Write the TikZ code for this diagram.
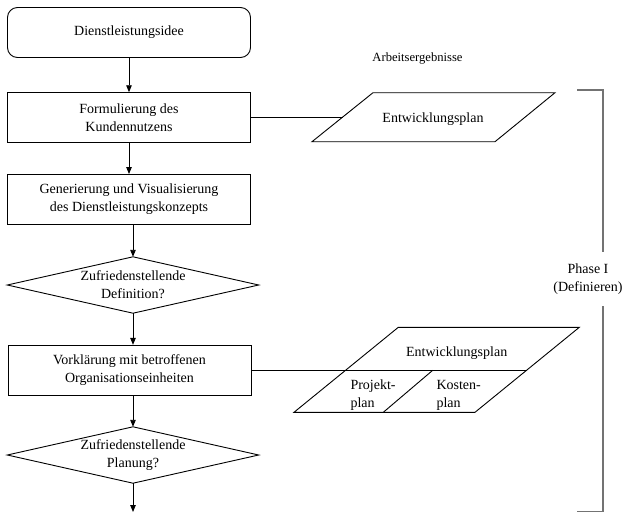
\documentclass[tikz,border=0pt]{standalone}
\usepackage{fontspec}
\setmainfont{Liberation Serif}
\usetikzlibrary{arrows.meta}
\begin{document}
\begin{tikzpicture}[x=1pt,y=-1pt,
  every node/.style={font=\fontsize{14}{18}\selectfont, align=center},
  box/.style={draw, line width=0.9pt, minimum width=243pt, minimum height=50pt, inner sep=0pt},
  roundbox/.style={box, rounded corners=10pt},
  dia/.style={minimum width=251pt, minimum height=56pt, inner sep=0pt},
  link/.style={line width=0.9pt},
  arr/.style={line width=0.9pt, -{Triangle[length=7pt,width=5.5pt]}},
  brack/.style={line width=1.2pt, draw=black!55}
]
\useasboundingbox (0,0) rectangle (624,512);

% main flow
\node[roundbox] (idea) at (129,32.5) {Dienstleistungsidee};
\node[box] (kn) at (129,117.7) {Formulierung des\\Kundennutzens};
\node[box] (gv) at (129,199.5) {Generierung und Visualisierung\\des Dienstleistungskonzepts};
\node[dia] (d1) at (133,285) {Zufriedenstellende\\Definition?};
\draw[link] (d1.north) -- (d1.east) -- (d1.south) -- (d1.west) -- cycle;
\node[box] (vk) at (129.5,370.3) {Vorkl\"arung mit betroffenen\\Organisationseinheiten};
\node[dia] (d2) at (133,455) {Zufriedenstellende\\Planung?};
\draw[link] (d2.north) -- (d2.east) -- (d2.south) -- (d2.west) -- cycle;
\coordinate (endp) at (133,512);

\draw[arr] (idea.south) -- (kn.north);
\draw[arr] (kn.south) -- (gv.north);
\draw[arr] (gv.south -| d1.north) -- (d1.north);
\draw[arr] (d1.south) -- (vk.north -| d1.south);
\draw[arr] (vk.south -| d2.north) -- (d2.north);
\draw[arr] (d2.south) -- (endp);

% Arbeitsergebnisse
\node (ae) at (417.5,58) {\fontsize{12.6}{15}\selectfont Arbeitsergebnisse};

% parallelogram 1
\draw[link] (373,92.7) -- (555,92.7) -- (495,141.7) -- (312,141.7) -- cycle;
\node (ep1) at (433,119) {Entwicklungsplan};
\coordinate (p1l) at (342.7,117.7);
\draw[link] (kn.east) -- (p1l);

% parallelogram 2
\draw[link] (398.3,327.3) -- (579.3,327.3) -- (475,412.3) -- (294,412.3) -- cycle;
\coordinate (p2r) at (527.1,370.3);
\draw[link] (vk.east) -- (p2r);
\draw[link] (432.7,370.3) -- (383.3,412.3);
\node (ep2) at (456.7,353) {Entwicklungsplan};
\node[align=left, anchor=west] (pp) at (347,395.5) {Projekt-\\plan};
\node[align=left, anchor=west] (kp) at (433,395.5) {Kosten-\\plan};

% bracket
\coordinate (bt1) at (577,90);
\coordinate (bt2) at (603,90);
\coordinate (bb2) at (603,511.5);
\coordinate (bb1) at (577,511.5);
\draw[brack] (bt1) -- (bt2) -- (bb2) -- (bb1);
\node[fill=white, minimum height=54pt, inner sep=1pt] (ph) at (588,279) {Phase I\\(Definieren)};
\end{tikzpicture}
\end{document}
